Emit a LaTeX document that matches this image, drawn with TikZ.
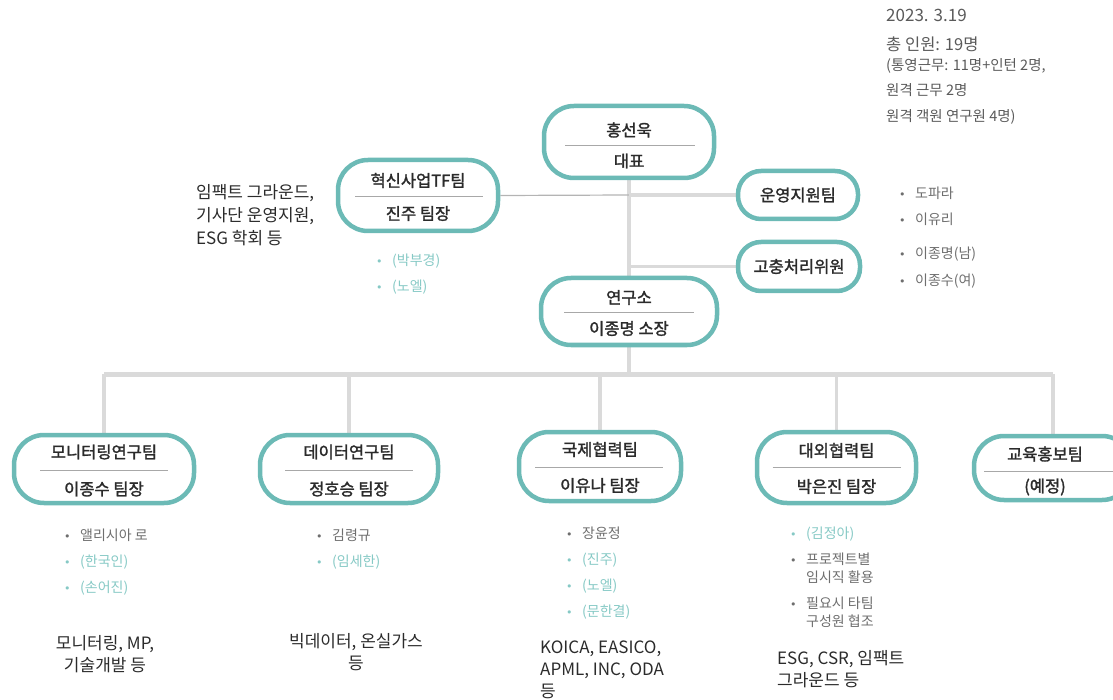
\documentclass[tikz,border=0pt]{standalone}
\usepackage{fontspec}
\setmainfont{Noto Sans CJK KR}
\newfontfamily\tfont{Noto Sans CJK KR}[FakeBold=1.6]
\newfontfamily\symf{DejaVu Sans}
\usetikzlibrary{backgrounds}
\definecolor{teal1}{HTML}{6CBAB6}
\definecolor{lgray}{HTML}{DADADA}
\definecolor{tgray}{HTML}{B4B4B4}
\definecolor{tealtx}{HTML}{86C9C5}
\definecolor{graytx}{HTML}{6E6E6E}
\definecolor{darktx}{HTML}{2B2B2B}
\definecolor{divgray}{HTML}{A8A8A8}
\definecolor{infotx}{HTML}{5A5A5A}
\newcommand\bulg{\makebox[16pt][l]{\color{graytx}\symf\fontsize{11}{11}\selectfont •}}
\newcommand\bult{\makebox[16pt][l]{\color{tealtx}\symf\fontsize{11}{11}\selectfont •}}
\begin{document}
\begin{tikzpicture}[x=1pt,y=-1pt,
  box/.style={draw=teal1, line width=4.5pt, rounded corners=30pt, inner sep=0pt, fill=white},
  sbox/.style={box, rounded corners=23pt},
  ttl/.style={inner sep=0pt, text=darktx, font=\tfont\fontsize{16.5}{18}\selectfont},
  divl/.style={draw=divgray, line width=0.8pt},
  conn/.style={draw=lgray, line width=3.5pt},
  bus/.style={draw=lgray, line width=5pt},
  thin/.style={draw=tgray, line width=1.2pt},
  item/.style={inner sep=0pt, anchor=base west, align=left, font=\fontsize{14}{18}\selectfont},
  gitem/.style={item, text=graytx},
  titem/.style={item, text=tealtx},
  desc/.style={inner sep=0pt, text=darktx, font=\fontsize{17}{22}\selectfont},
  info/.style={inner sep=0pt, anchor=base west, text=infotx},
]
\clip (0,0) rectangle (1113,700);
\useasboundingbox (0,0) rectangle (1113,700);

% ---------- boxes ----------
\node[box, minimum width=170pt, minimum height=72pt] (ceo) at (629,142) {};
\node[box, minimum width=160pt, minimum height=71pt] (tf) at (418,195.5) {};
\node[sbox, minimum width=120pt, minimum height=48pt] (ops) at (798,195) {};
\node[sbox, minimum width=122pt, minimum height=49pt] (grv) at (799,266.5) {};
\node[box, minimum width=176pt, minimum height=67pt] (lab) at (629,311.5) {};
\node[box, minimum width=180pt, minimum height=68pt] (mon) at (104,469) {};
\node[box, minimum width=178pt, minimum height=68pt] (dat) at (349,469) {};
\node[box, minimum width=162pt, minimum height=69pt] (intl) at (600,466.5) {};
\node[box, minimum width=159pt, minimum height=71pt] (ext) at (836.5,467.5) {};
\node[box, minimum width=158pt, minimum height=64pt] (edu) at (1053,468) {};

% ---------- box texts ----------
\node[ttl] (ceoA) at ([yshift=12pt]ceo.center) {홍선욱};
\draw[divl] ([xshift=-64pt,yshift=-3pt]ceo.center) -- ([xshift=66pt,yshift=-3pt]ceo.center);
\node[ttl] (ceoB) at ([yshift=-19pt]ceo.center) {대표};

\node[ttl] (tfA) at ([yshift=15pt]tf.center) {혁신사업TF팀};
\draw[divl] ([xshift=-63pt,yshift=-1pt]tf.center) -- ([xshift=65pt,yshift=-1pt]tf.center);
\node[ttl] (tfB) at ([yshift=-18pt]tf.center) {진주 팀장};

\node[ttl] (opsA) at (ops.center) {운영지원팀};
\node[ttl] (grvA) at (grv.center) {고충처리위원};

\node[ttl] (labA) at ([yshift=14pt]lab.center) {연구소};
\draw[divl] ([xshift=-65pt,yshift=-1pt]lab.center) -- ([xshift=65pt,yshift=-1pt]lab.center);
\node[ttl] (labB) at ([yshift=-17pt]lab.center) {이종명 소장};

\node[ttl] (monA) at ([yshift=17pt]mon.center) {모니터링연구팀};
\draw[divl] ([xshift=-64pt,yshift=-1pt]mon.center) -- ([xshift=64pt,yshift=-1pt]mon.center);
\node[ttl] (monB) at ([yshift=-20pt]mon.center) {이종수 팀장};

\node[ttl] (datA) at ([yshift=17pt]dat.center) {데이터연구팀};
\draw[divl] ([xshift=-64pt,yshift=-1pt]dat.center) -- ([xshift=64pt,yshift=-1pt]dat.center);
\node[ttl] (datB) at ([yshift=-20pt]dat.center) {정호승 팀장};

\node[ttl] (intlA) at ([yshift=17pt]intl.center) {국제협력팀};
\draw[divl] ([xshift=-65pt,yshift=-1pt]intl.center) -- ([xshift=63pt,yshift=-1pt]intl.center);
\node[ttl] (intlB) at ([yshift=-19pt]intl.center) {이유나 팀장};

\node[ttl] (extA) at ([yshift=17pt]ext.center) {대외협력팀};
\draw[divl] ([xshift=-64pt,yshift=0pt]ext.center) -- ([xshift=64pt,yshift=0pt]ext.center);
\node[ttl] (extB) at ([yshift=-19pt]ext.center) {박은진 팀장};

\node[ttl] (eduA) at ([xshift=-8pt,yshift=14pt]edu.center) {교육홍보팀};
\draw[divl] ([xshift=-69pt,yshift=-3pt]edu.center) -- ([xshift=70pt,yshift=-3pt]edu.center);
\node[ttl] (eduB) at ([xshift=-8pt,yshift=-19pt]edu.center) {(예정)};

% ---------- connectors ----------
\coordinate (busL) at (104,374);
\coordinate (busR) at (1053,374);
\coordinate (tfJ) at (629,195);
\coordinate (grvJ) at (629,266.5);
\begin{scope}[on background layer]
  \draw[conn] (ceo.south) -- (lab.north);
  \draw[thin] (tf.east) -- (tfJ);
  \draw[conn] (tfJ) -- (ops.west);
  \draw[conn] (grvJ) -- (grv.west);
  \draw[conn] (lab.south) -- (lab.south |- busL);
  \draw[bus] (busL) -- (busR);
  \draw[conn] (busL) -- (mon.north);
  \draw[conn] (dat.north |- busL) -- (dat.north);
  \draw[conn] (intl.north |- busL) -- (intl.north);
  \draw[conn] (ext.north |- busL) -- (ext.north);
  \draw[conn] (busR) -- (edu.north);
\end{scope}

% ---------- info (top right) ----------
\node[info, font=\fontsize{17}{18}\selectfont] (i1) at (886,22) {2023. 3.19};
\node[info, font=\fontsize{16.5}{18}\selectfont] (i2) at (886,51) {총 인원: 19명};
\node[info, font=\fontsize{14.5}{18}\selectfont] (i3) at (886,71) {(통영근무: 11명+인턴 2명,};
\node[info, font=\fontsize{14.5}{18}\selectfont] (i4) at (886,96) {원격 근무 2명};
\node[info, font=\fontsize{14.5}{18}\selectfont] (i5) at (886,122) {원격 객원 연구원 4명)};

% ---------- left description ----------
\node[desc, anchor=base west, align=left, font=\fontsize{17}{23}\selectfont] (tfD) at (196,245)
  {임팩트 그라운드,\\기사단 운영지원,\\ESG 학회 등};

% ---------- bullet lists ----------
\node[titem] (tf1) at (376,266) {\bult(박부경)};
\node[titem] (tf2) at (376,292) {\bult(노엘)};

\node[gitem] (op1) at (899,199) {\bulg 도파라};
\node[gitem] (op2) at (899,225) {\bulg 이유리};
\node[gitem] (gr1) at (899,259) {\bulg 이종명(남)};
\node[gitem] (gr2) at (899,286) {\bulg 이종수(여)};

\node[gitem] (mo1) at (64,540) {\bulg 앨리시아 로};
\node[titem] (mo2) at (64,566) {\bult(한국인)};
\node[titem] (mo3) at (64,592) {\bult(손어진)};

\node[gitem] (da1) at (316,540) {\bulg 김령규};
\node[titem] (da2) at (316,566) {\bult(임세한)};

\node[gitem] (in1) at (566,538) {\bulg 장윤정};
\node[titem] (in2) at (566,564) {\bult(진주)};
\node[titem] (in3) at (566,590) {\bult(노엘)};
\node[titem] (in4) at (566,616) {\bult(문한결)};

\node[titem] (ex1) at (790,538) {\bult(김정아)};
\node[gitem] (ex2) at (790,582) {\bulg 프로젝트별\\\hspace*{16pt}임시직 활용};
\node[gitem] (ex3) at (790,626) {\bulg 필요시 타팀\\\hspace*{16pt}구성원 협조};

% ---------- descriptions ----------
\node[desc, align=center] (monD) at (105,654) {모니터링, MP,\\기술개발 등};
\node[desc, align=center] (datD) at (356,652) {빅데이터, 온실가스\\등};
\node[desc, anchor=base west, align=left] (intlD) at (540,697) {KOICA, EASICO,\\APML, INC, ODA\\등};
\node[desc, anchor=base west, align=left] (extD) at (777,686) {ESG, CSR, 임팩트\\그라운드 등};
\end{tikzpicture}
\end{document}
